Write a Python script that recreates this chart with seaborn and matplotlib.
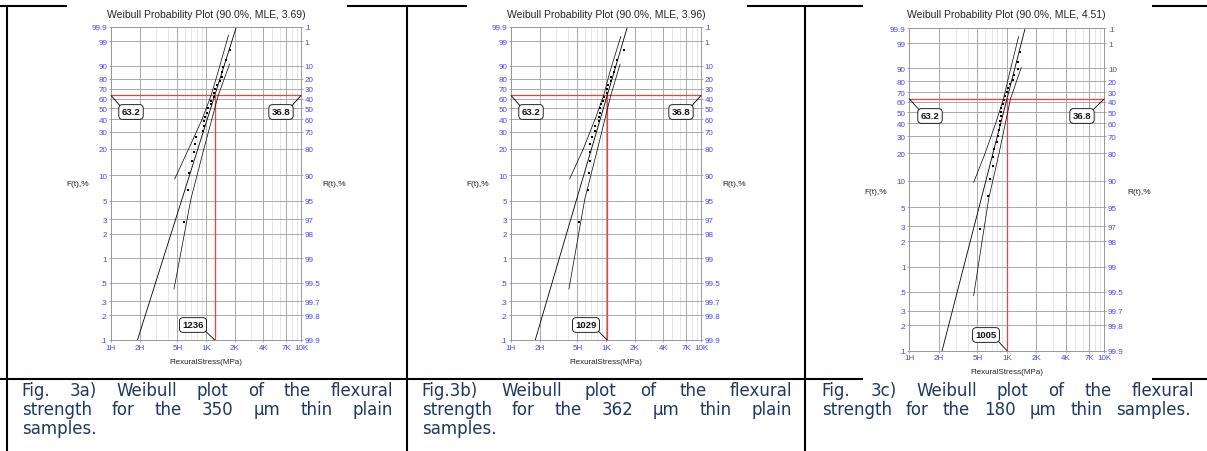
"""Weibull probability plots of flexural strength, laid out as a captioned table."""

import numpy as np
import matplotlib
matplotlib.use('Agg')
import matplotlib.pyplot as plt
from matplotlib.lines import Line2D
from matplotlib.patches import Rectangle
from matplotlib.ticker import NullFormatter
import seaborn as sns

sns.set_theme(style='white')
plt.rcParams['font.family'] = ['Liberation Sans', 'DejaVu Sans']

W, H = 1207, 452

# unreliability (median ranks, %) of the 25 specimens
F_PTS = [2.76, 6.69, 10.63, 14.57, 18.50, 22.44, 26.38, 30.31, 34.25, 38.19, 42.13, 46.06, 50.00,
         53.94, 57.87, 61.81, 65.75, 69.69, 73.62, 77.56, 81.50, 85.43, 89.37, 93.31, 97.24]

stress_a = [593, 654, 660, 716, 751, 764, 789, 930, 944, 952, 984, 1025, 1059,
            1120, 1130, 1220, 1226, 1236, 1299, 1421, 1456, 1480, 1492, 1632, 1771]
stress_b = [525, 654, 668, 672, 676, 681, 715, 764, 770, 840, 849, 855, 862,
            885, 922, 952, 1025, 1033, 1050, 1130, 1140, 1226, 1256, 1309, 1554]
stress_c = [526, 636, 667, 715, 721, 733, 793, 805, 838, 850, 858, 862, 871,
            878, 920, 928, 960, 1004, 1020, 1086, 1157, 1175, 1291, 1300, 1375]

betas = [3.69, 3.96, 4.51]
etas = [1236, 1029, 1005]

# fitted line end points (F at axis limits)
fit_F = [0.1, 99.9]
fit_a = [190, 2087]
fit_b = [180, 1677]
fit_c = [217, 1542]

# 90% confidence bounds
lo_F_a = [9, 20, 40, 63.2, 85, 99.6]
lo_a = [468, 659, 911, 1130, 1332, 1728]
hi_F_a = [0.42, 2, 5.2, 20, 63.2, 91.2]
hi_a = [460, 593, 693, 952, 1345, 1771]

lo_F_b = [9, 20, 40, 63.2, 85, 99.5]
lo_b = [414, 579, 767, 945, 1092, 1433]
hi_F_b = [0.42, 2, 5.2, 20, 63.2, 91.2]
hi_b = [407, 516, 598, 816, 1122, 1409]

lo_F_c = [9.6, 20, 40, 63.2, 85, 99.6]
lo_c = [457, 598, 769, 925, 1053, 1322]
hi_F_c = [0.45, 2, 6.2, 20, 63.2, 90.6]
hi_c = [457, 558, 651, 832, 1091, 1408]

F_TICKS = [0.1, 0.2, 0.3, 0.5, 1, 2, 3, 5, 10, 20, 30, 40, 50, 60, 70, 80, 90, 99, 99.9]
F_LABELS = ['.1', '.2', '.3', '.5', '1', '2', '3', '5', '10', '20', '30', '40', '50',
            '60', '70', '80', '90', '99', '99.9']
R_LABELS = ['99.9', '99.8', '99.7', '99.5', '99', '98', '97', '95', '90', '80', '70',
            '60', '50', '40', '30', '20', '10', '1', '.1']
X_TICKS = [100, 200, 500, 1000, 2000, 4000, 7000, 10000]
X_LABELS = ['1H', '2H', '5H', '1K', '2K', '4K', '7K', '10K']
X_MINOR = [300, 400, 600, 700, 800, 900, 3000, 5000, 6000, 8000, 9000]

CAPTIONS = [
    ['Fig. 3a) Weibull plot of the flexural', 'strength for the 350 µm thin plain', 'samples.'],
    ['Fig.3b) Weibull plot of the flexural', 'strength for the 362 µm thin plain', 'samples.'],
    ['Fig. 3c) Weibull plot of the flexural', 'strength for the 180 µm thin samples.'],
]

BLUE = '#4646f5'
RED = '#ff3b3b'
NAVY = '#1f3763'

# layout in pixels (x from left, y from top)
PANELS = [
    dict(ax=(111, 28, 301, 341), title=(206, 15), flab=(78, 185), rlab=(334, 185),
         xlab=(206, 362), b632=(131, 113), b368=(281, 113), beta_box=(193, 326),
         cap_x=21.7, cap_r=[393, 393, None]),
    dict(ax=(511, 28, 701, 341), title=(606, 15), flab=(478, 185), rlab=(734, 185),
         xlab=(606, 362), b632=(531, 113), b368=(681, 113), beta_box=(586, 326),
         cap_x=421.7, cap_r=[792, 792, None]),
    dict(ax=(909.3, 29.3, 1104.3, 351.7), title=(1006, 15), flab=(876, 192), rlab=(1139, 192),
         xlab=(1007, 373), b632=(930, 117), b368=(1082, 117), beta_box=(986, 336),
         cap_x=821.7, cap_r=[1194, 1191]),
]
CAP_BASE = [396.5, 415.5, 434]

DATA = [(stress_a, fit_a, lo_F_a, lo_a, hi_F_a, hi_a),
        (stress_b, fit_b, lo_F_b, lo_b, hi_F_b, hi_b),
        (stress_c, fit_c, lo_F_c, lo_c, hi_F_c, hi_c)]


def fwd(p):
    p = np.clip(np.asarray(p, dtype=float), 1e-6, 100 - 1e-6)
    return np.log(-np.log(1 - p / 100))


def inv(y):
    return 100 * (1 - np.exp(-np.exp(y)))


def fx(x):
    return x / W


def fy(y):
    return 1 - y / H


fig = plt.figure(figsize=(W / 100, H / 100), dpi=100)

# table grid
for (x0, y0, x1, y1) in [(0, 7, W, 7), (0, 379.5, W, 379.5),
                         (6.5, 7, 6.5, H), (406.5, 7, 406.5, H), (804.5, 7, 804.5, H)]:
    fig.add_artist(Line2D([fx(x0), fx(x1)], [fy(y0), fy(y1)], transform=fig.transFigure,
                          color='black', lw=1.5, zorder=-3))
# pasted chart images hide parts of the border
for (x0, y0, x1, y1) in [(66.7, 0, 346.7, 370), (467, 0, 747, 370), (863, 0, 1152, 381.5)]:
    fig.add_artist(Rectangle((fx(x0), fy(y1)), (x1 - x0) / W, (y1 - y0) / H,
                             transform=fig.transFigure, fc='white', ec='none', zorder=-2))

for p, beta, eta, (stress, fit_x, loF, lo, hiF, hi) in zip(PANELS, betas, etas, DATA):
    l, t, r, b = p['ax']
    ax = fig.add_axes([fx(l), fy(b), (r - l) / W, (b - t) / H])
    ax.set_xscale('log')
    ax.set_yscale('function', functions=(fwd, inv))

    ax.axhline(63.2, color=RED, lw=0.9, zorder=2)
    ax.plot([eta, eta], [0.1, 63.2], color=RED, lw=0.9, zorder=2)

    sns.lineplot(x=fit_x, y=fit_F, ax=ax, color='black', lw=0.6, sort=False, estimator=None)
    sns.lineplot(x=lo, y=loF, ax=ax, color='black', lw=0.5, sort=False, estimator=None)
    sns.lineplot(x=hi, y=hiF, ax=ax, color='black', lw=0.5, sort=False, estimator=None)
    sns.scatterplot(x=stress, y=F_PTS, ax=ax, marker='s', s=4, color='black',
                    linewidth=0, zorder=4)

    ax.set_xlim(100, 10000)
    ax.set_ylim(0.1, 99.9)
    ax.set_xticks(X_TICKS, labels=X_LABELS)
    ax.set_xticks(X_MINOR, minor=True)
    ax.xaxis.set_minor_formatter(NullFormatter())
    ax.set_yticks(F_TICKS, labels=F_LABELS)
    ax.set_xlabel('')
    ax.set_ylabel('')
    ax.set_axisbelow(True)
    ax.grid(which='major', color='#a8a8a8', lw=0.7)
    ax.grid(which='minor', axis='x', color='#e0e0e0', lw=0.6)
    ax.tick_params(axis='both', which='major', labelsize=5.8, labelcolor=BLUE,
                   color='#999999', length=1.5, width=0.6, pad=1.2, left=True, bottom=True)
    ax.tick_params(axis='x', which='minor', length=0)
    for s in ax.spines.values():
        s.set_color('#999999')
        s.set_linewidth(0.7)

    axr = ax.twinx()
    axr.set_yscale('function', functions=(fwd, inv))
    axr.set_ylim(0.1, 99.9)
    axr.set_yticks(F_TICKS, labels=R_LABELS)
    axr.tick_params(axis='y', labelsize=5.8, labelcolor=BLUE, color='#999999',
                    length=1.5, width=0.6, pad=1.2)
    for s in axr.spines.values():
        s.set_visible(False)

    fig.text(fx(p['title'][0]), fy(p['title'][1]),
             f'Weibull Probability Plot (90.0%, MLE, {beta:.2f})',
             ha='center', va='center', fontsize=7.5, color='#222222')
    fig.text(fx(p['flab'][0]), fy(p['flab'][1]), 'F(t),%', ha='center', va='center',
             fontsize=6, color='#222222')
    fig.text(fx(p['rlab'][0]), fy(p['rlab'][1]), 'R(t),%', ha='center', va='center',
             fontsize=6, color='#222222')
    fig.text(fx(p['xlab'][0]), fy(p['xlab'][1]), 'FlexuralStress(MPa)', ha='center',
             va='center', fontsize=5.8, color='#222222')

    box = dict(boxstyle='round,pad=0.3,rounding_size=0.4', fc='white', ec='black', lw=0.6)
    for txt, xy, coords, pos, rel in [
            ('63.2', (0, 63.2), ('axes fraction', 'data'), p['b632'], (0, 1)),
            ('36.8', (1, 63.2), ('axes fraction', 'data'), p['b368'], (1, 1)),
            (f'{eta}', (eta, 0.1), 'data', p['beta_box'], (1, 0))]:
        ax.annotate(txt, xy=xy, xycoords=coords, xytext=(pos[0], H - pos[1]),
                    textcoords='figure pixels', ha='center', va='center',
                    fontsize=6.8, fontweight='bold', color='#111111', bbox=box,
                    arrowprops=dict(arrowstyle='-', lw=0.6, color='black',
                                    shrinkA=0, shrinkB=0, relpos=rel),
                    annotation_clip=False, zorder=6)

# captions, justified like the table cells
renderer = fig.canvas.get_renderer()
cap_kw = dict(fontsize=12, color=NAVY, family='DejaVu Sans', va='baseline', ha='left')
for p, lines in zip(PANELS, CAPTIONS):
    for line, right, base in zip(lines, p['cap_r'], CAP_BASE):
        if right is None:
            fig.text(fx(p['cap_x']), fy(base), line, **cap_kw)
            continue
        words = line.split()
        texts = [fig.text(0, 0, w_, **cap_kw) for w_ in words]
        widths = [t_.get_window_extent(renderer).width for t_ in texts]
        gap = (right - p['cap_x'] - sum(widths)) / (len(words) - 1)
        x = p['cap_x']
        for t_, w_ in zip(texts, widths):
            t_.set_position((fx(x), fy(base)))
            x += w_ + gap

fig.savefig('out.png', dpi=100)
